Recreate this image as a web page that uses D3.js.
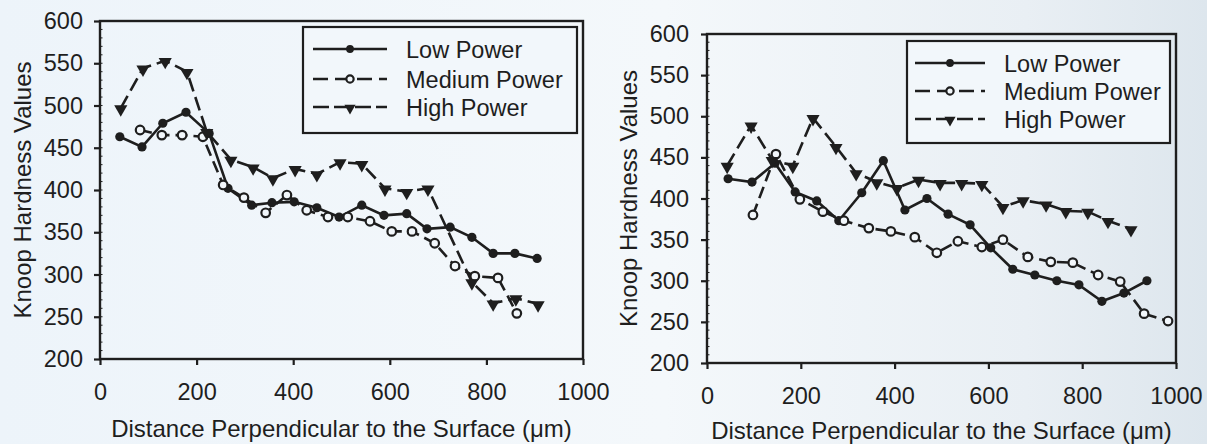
<!DOCTYPE html>
<html>
<head>
<script type="text/javascript" src="https://d3js.org/d3.v7.min.js"></script>
<title>Knoop hardness profiles</title>
<style>
body { margin:0; padding:0; background:#eef4f9; }
text { font-family: "Liberation Sans", Arial, sans-serif; fill:#1e1e1e; }
</style>
</head>
<body>
<div id="chart"></div>
<script type="text/javascript">
// series names and tick values
var seriesNames = ["Low Power", "Medium Power", "High Power"];
var yTicks = [200, 250, 300, 350, 400, 450, 500, 550, 600];
var xTicks = [0, 200, 400, 600, 800, 1000];

// left panel
var leftLowX  = [41, 87, 130, 178, 226, 265, 314, 356, 402, 449, 495, 542, 588, 635, 677, 725, 770, 814, 859, 905];
var leftLowY  = [463, 451, 479, 492, 467, 402, 382, 385, 386, 379, 368, 382, 370, 372, 354, 356, 344, 325, 325, 319];
var leftMedX  = [83, 128, 170, 213, 255, 298, 343, 387, 428, 472, 513, 559, 604, 646, 693, 735, 776, 824, 863];
var leftMedY  = [471, 465, 465, 463, 406, 391, 373, 394, 376, 368, 368, 363, 351, 351, 337, 310, 298, 296, 254];
var leftHighX = [43, 89, 135, 180, 221, 271, 317, 358, 404, 449, 497, 542, 590, 635, 679, 770, 814, 861, 907];
var leftHighY = [497, 544, 553, 540, 469, 436, 427, 414, 425, 419, 433, 431, 402, 398, 402, 291, 266, 272, 265];

// right panel
var rightLowX  = [45, 96, 145, 188, 234, 281, 330, 376, 422, 469, 514, 561, 605, 652, 699, 746, 793, 842, 889, 938];
var rightLowY  = [424, 420, 443, 408, 397, 373, 407, 446, 386, 400, 381, 368, 340, 314, 307, 300, 295, 275, 285, 300];
var rightMedX  = [98, 147, 198, 247, 292, 345, 392, 443, 490, 535, 586, 631, 684, 733, 780, 834, 881, 932, 983];
var rightMedY  = [380, 454, 399, 384, 373, 364, 360, 353, 334, 348, 341, 350, 329, 323, 322, 307, 299, 260, 251];
var rightHighX = [43, 94, 139, 183, 226, 275, 318, 362, 405, 451, 497, 543, 586, 631, 674, 723, 765, 812, 855, 904];
var rightHighY = [440, 489, 447, 440, 498, 463, 431, 420, 413, 423, 419, 419, 418, 390, 398, 393, 385, 384, 373, 363];

var W = 1207, H = 444;
var ink = "#1e1e1e", paper = "#f2f7fb";

var svg = d3.select("#chart").append("svg")
  .attr("width", W).attr("height", H);

var defs = svg.append("defs");
var grad = defs.append("linearGradient")
  .attr("id", "bg").attr("x1", "0%").attr("x2", "100%");
grad.append("stop").attr("offset", "0%").attr("stop-color", "#edf4fa");
grad.append("stop").attr("offset", "55%").attr("stop-color", "#f4f8fb");
grad.append("stop").attr("offset", "85%").attr("stop-color", "#e9eff4");
grad.append("stop").attr("offset", "100%").attr("stop-color", "#dde6ed");
svg.append("rect").attr("width", W).attr("height", H).attr("fill", "url(#bg)");

function zip(xs, ys) { return xs.map(function(x, i) { return [x, ys[i]]; }); }

var styles = [
  { dash: null,    marker: "dot" },
  { dash: "12,6",  marker: "open" },
  { dash: "14,6",  marker: "tri" }
];

function drawMarker(g, type, x, y, k) {
  k = k || 1;
  if (type === "dot") {
    g.append("circle").attr("cx", x).attr("cy", y).attr("r", 4.6 * k).attr("fill", ink);
  } else if (type === "open") {
    g.append("circle").attr("cx", x).attr("cy", y).attr("r", 4.3 * k)
      .attr("fill", paper).attr("stroke", ink).attr("stroke-width", 2.2);
  } else {
    g.append("path").attr("d", d3.symbol().type(d3.symbolTriangle).size(75 * k * k)())
      .attr("transform", "translate(" + x + "," + (y + 1) + ") rotate(180)")
      .attr("fill", ink);
  }
}

function panel(cfg, series) {
  var x = d3.scaleLinear().domain([0, 1000]).range([cfg.x0, cfg.x1]);
  var y = d3.scaleLinear().domain([200, 600]).range([cfg.y1, cfg.y0]);
  var g = svg.append("g");

  // frame
  g.append("rect").attr("x", cfg.x0).attr("y", cfg.y0)
    .attr("width", cfg.x1 - cfg.x0).attr("height", cfg.y1 - cfg.y0)
    .attr("fill", "none").attr("stroke", ink).attr("stroke-width", 2.4);

  // minor ticks
  g.selectAll(".ym").data(d3.range(210, 600, 10)).enter().append("line")
    .attr("x1", cfg.x0).attr("x2", cfg.x0 + 2.5)
    .attr("y1", function(d) { return y(d); }).attr("y2", function(d) { return y(d); })
    .attr("stroke", ink).attr("stroke-width", 1);

  var yAxis = g.append("g").attr("transform", "translate(" + cfg.x0 + ",0)")
    .call(d3.axisLeft(y).tickValues(yTicks).tickSize(6).tickPadding(cfg.yPad));
  var xAxis = g.append("g").attr("transform", "translate(0," + cfg.y1 + ")")
    .call(d3.axisBottom(x).tickValues(xTicks).tickFormat(d3.format("d")).tickSize(6).tickPadding(18));
  [yAxis, xAxis].forEach(function(a) {
    a.select(".domain").remove();
    a.selectAll("line").attr("stroke", ink).attr("stroke-width", 2.2);
    a.selectAll("text").attr("font-size", 23.5).attr("fill", ink)
      .style("font-family", "'Liberation Sans', Arial, sans-serif");
  });

  g.append("text").attr("x", (cfg.x0 + cfg.x1) / 2).attr("y", cfg.titleY)
    .attr("text-anchor", "middle").attr("font-size", 24)
    .text("Distance Perpendicular to the Surface (\u03bcm)");
  g.append("text")
    .attr("transform", "translate(" + cfg.yTitleX + "," + (cfg.y0 + cfg.y1) / 2 + ") rotate(-90)")
    .attr("text-anchor", "middle").attr("font-size", 24)
    .text("Knoop Hardness Values");

  var line = d3.line().x(function(d) { return x(d[0]); }).y(function(d) { return y(d[1]); });
  series.forEach(function(pts, i) {
    g.append("path").datum(pts).attr("d", line)
      .attr("fill", "none").attr("stroke", ink).attr("stroke-width", 2.6)
      .attr("stroke-dasharray", styles[i].dash);
    pts.forEach(function(p) { drawMarker(g, styles[i].marker, x(p[0]), y(p[1])); });
  });

  // legend
  var L = cfg.legend;
  g.append("rect").attr("x", L.x0).attr("y", L.y0)
    .attr("width", L.x1 - L.x0).attr("height", L.y1 - L.y0)
    .attr("fill", paper).attr("stroke", ink).attr("stroke-width", 2.2);
  seriesNames.forEach(function(name, i) {
    var ry = L.rows[i];
    g.append("line").attr("x1", L.sx0).attr("x2", L.sx1).attr("y1", ry).attr("y2", ry)
      .attr("stroke", ink).attr("stroke-width", 2.4)
      .attr("stroke-dasharray", i === 0 ? null : (i === 1 ? "15,7" : "16,5"));
    drawMarker(g, styles[i].marker, (L.sx0 + L.sx1) / 2, ry, 0.85);
    g.append("text").attr("x", L.tx).attr("y", ry + 8.5).attr("font-size", 23.5).text(name);
  });
}

panel({ x0: 100, x1: 583, y0: 21, y1: 359, titleY: 437, yTitleX: 31, yPad: 11,
        legend: { x0: 303, x1: 577, y0: 27, y1: 133, sx0: 313, sx1: 387, tx: 406, rows: [49, 79, 107] } },
      [zip(leftLowX, leftLowY), zip(leftMedX, leftMedY), zip(leftHighX, leftHighY)]);

panel({ x0: 707, x1: 1176, y0: 34, y1: 363, titleY: 439, yTitleX: 637, yPad: 12,
        legend: { x0: 907, x1: 1170, y0: 41, y1: 143, sx0: 915, sx1: 985, tx: 1004, rows: [63, 91, 119] } },
      [zip(rightLowX, rightLowY), zip(rightMedX, rightMedY), zip(rightHighX, rightHighY)]);
</script>
</body>
</html>
